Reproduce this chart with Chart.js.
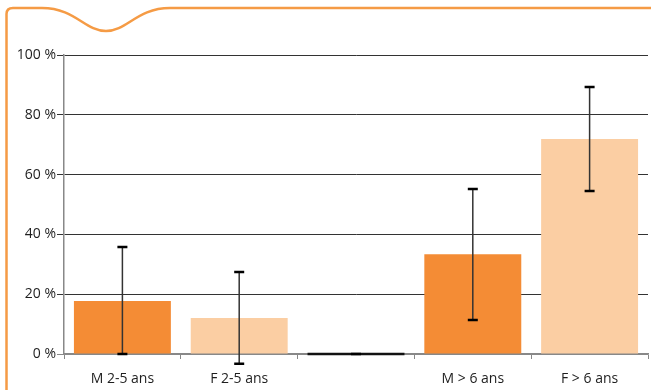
<!DOCTYPE html>
<html>
<head>
<meta charset="utf-8">
<script src="https://cdn.jsdelivr.net/npm/chart.js@4/dist/chart.umd.min.js"></script>
<style>
  html, body { margin: 0; padding: 0; background: #fff; }
  #wrap { width: 651px; height: 390px; }
</style>
</head>
<body>
<div id="wrap"><canvas id="c" width="651" height="390"></canvas></div>
<script>
// values (%)
var categories = ['M 2-5 ans', 'F 2-5 ans', '', 'M > 6 ans', 'F > 6 ans'];
var values = [17.7, 12.0, 0, 33.4, 71.9];
var errLow = [0, -3.3, 0, 11.4, 54.5];
var errHigh = [35.8, 27.4, 0, 55.2, 89.3];
var barColors = ['#f48c35', '#fbcea3', '#f48c35', '#f48c35', '#fbcea3'];
var yTicks = [0, 20, 40, 60, 80, 100];

// orange frame with the little dip at the top
var framePlugin = {
  id: 'frame',
  beforeDraw: function(chart) {
    var ctx = chart.ctx;
    ctx.save();
    ctx.strokeStyle = '#f59b45';
    ctx.lineWidth = 2.5;
    ctx.beginPath();
    ctx.moveTo(6.5, 390);
    ctx.lineTo(6.5, 14);
    ctx.quadraticCurveTo(6.5, 8, 13, 8);
    ctx.lineTo(42, 8);
    ctx.bezierCurveTo(75, 8, 85, 31, 106, 31);
    ctx.bezierCurveTo(127, 31, 137, 8, 170, 8);
    ctx.lineTo(651, 8);
    ctx.stroke();
    ctx.restore();
  }
};

// error bars + black line for the empty (zero) bar
var errorPlugin = {
  id: 'errors',
  afterDatasetsDraw: function(chart) {
    var ctx = chart.ctx;
    var y = chart.scales.y;
    var meta = chart.getDatasetMeta(0);
    ctx.save();
    meta.data.forEach(function(bar, i) {
      if (values[i] === 0) {
        ctx.strokeStyle = '#111';
        ctx.lineWidth = 2.5;
        ctx.beginPath();
        ctx.moveTo(bar.x - bar.width / 2, y.getPixelForValue(0));
        ctx.lineTo(bar.x + bar.width / 2, y.getPixelForValue(0));
        ctx.stroke();
      }
      var top = y.getPixelForValue(errHigh[i]);
      var bot = y.getPixelForValue(errLow[i]);
      ctx.strokeStyle = '#333';
      ctx.lineWidth = 1.5;
      ctx.beginPath();
      ctx.moveTo(bar.x, top);
      ctx.lineTo(bar.x, bot);
      ctx.stroke();
      ctx.strokeStyle = '#000';
      ctx.lineWidth = 2.5;
      ctx.beginPath();
      ctx.moveTo(bar.x - 5, top);
      ctx.lineTo(bar.x + 5, top);
      ctx.moveTo(bar.x - 5, bot);
      ctx.lineTo(bar.x + 5, bot);
      ctx.stroke();
    });
    ctx.restore();
  }
};

new Chart(document.getElementById('c').getContext('2d'), {
  type: 'bar',
  data: {
    labels: categories,
    datasets: [
      {
        data: values,
        backgroundColor: barColors,
        borderWidth: 0,
        categoryPercentage: 1,
        barPercentage: 0.83
      }
    ]
  },
  options: {
    responsive: false,
    animation: false,
    devicePixelRatio: 1,
    layout: { padding: { left: 0, right: 3, top: 55, bottom: 0 } },
    plugins: {
      legend: { display: false },
      tooltip: { enabled: false }
    },
    scales: {
      x: {
        offset: true,
        grid: {
          display: true,
          drawOnChartArea: false,
          offset: true,
          color: '#888',
          tickLength: 5
        },
        border: { color: '#888', width: 1.5 },
        ticks: {
          color: '#1e1e1e',
          padding: 12,
          font: { family: 'Open Sans', size: 14 }
        },
        afterFit: function(scale) { scale.height = 36; }
      },
      y: {
        min: 0,
        max: 100,
        afterBuildTicks: function(scale) {
          scale.ticks = yTicks.map(function(v) { return { value: v }; });
        },
        grid: {
          color: function(c) { return c.tick && c.tick.value === 0 ? '#888' : '#333'; },
          lineWidth: 1,
          tickLength: 7
        },
        border: { color: '#888', width: 1.5 },
        ticks: {
          color: '#1e1e1e',
          padding: 1,
          font: { family: 'Open Sans', size: 14 },
          callback: function(v) { return v + ' %'; }
        },
        afterFit: function(scale) { scale.width = 64; }
      }
    }
  },
  plugins: [framePlugin, errorPlugin]
});
</script>
</body>
</html>
